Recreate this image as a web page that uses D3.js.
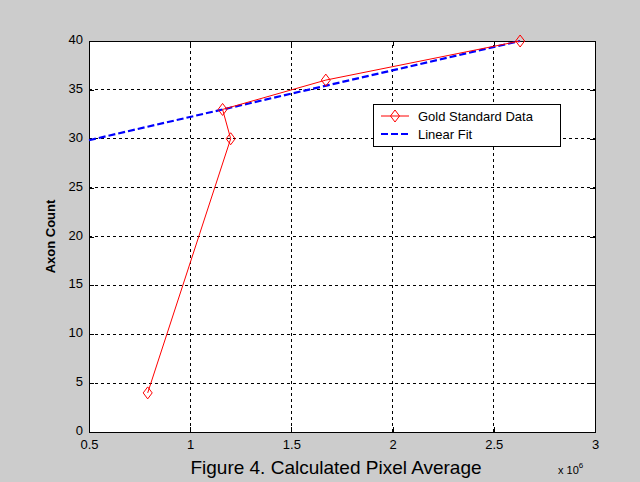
<!DOCTYPE html>
<html>
<head>
<meta charset="utf-8">
<script src="https://cdn.jsdelivr.net/npm/d3@7"></script>
<style>
  body { margin: 0; background: #cccccc; }
  svg { display: block; }
  text { font-family: Arial, "Liberation Sans", sans-serif; }
</style>
</head>
<body>
<script>
// data (x in units of 1e6)
const goldX = [0.79, 1.2, 1.16, 1.67, 2.63];
const goldY = [4, 30, 33, 36, 40];
const fitX = [0.5, 2.63];
const fitY = [29.85, 40];
const xTicks = [0.5, 1, 1.5, 2, 2.5, 3];
const yTicks = [0, 5, 10, 15, 20, 25, 30, 35, 40];
const seriesNames = ['Gold Standard Data', 'Linear Fit'];

const width = 640, height = 482;
const margin = { left: 89, right: 45, top: 41, bottom: 50 };

const svg = d3.select('body').append('svg')
    .attr('width', width)
    .attr('height', height);

svg.append('rect').attr('width', width).attr('height', height).attr('fill', '#cccccc');

const x = d3.scaleLinear().domain([0.5, 3]).range([margin.left, width - margin.right]);
const y = d3.scaleLinear().domain([0, 40]).range([height - margin.bottom, margin.top]);

// plot background
svg.append('rect')
    .attr('x', x(0.5)).attr('y', y(40))
    .attr('width', x(3) - x(0.5)).attr('height', y(0) - y(40))
    .attr('fill', 'white');

// grid
const grid = svg.append('g').attr('stroke', 'black').attr('stroke-width', 1)
    .attr('stroke-dasharray', '3,3').attr('shape-rendering', 'crispEdges');
xTicks.slice(1, -1).forEach(t => {
    grid.append('line').attr('x1', x(t)).attr('x2', x(t)).attr('y1', y(0)).attr('y2', y(40));
});
yTicks.slice(1, -1).forEach(t => {
    grid.append('line').attr('x1', x(0.5)).attr('x2', x(3)).attr('y1', y(t)).attr('y2', y(t));
});

// axes (ticks inside, like matlab)
const xAxis = svg.append('g').attr('transform', `translate(0,${y(0)})`)
    .call(d3.axisBottom(x).tickValues(xTicks).tickFormat(d3.format('')).tickSizeInner(-5).tickSizeOuter(0).tickPadding(8));
const xAxisTop = svg.append('g').attr('transform', `translate(0,${y(40)})`)
    .call(d3.axisTop(x).tickValues(xTicks).tickFormat('').tickSizeInner(-5).tickSizeOuter(0));
const yAxis = svg.append('g').attr('transform', `translate(${x(0.5)},0)`)
    .call(d3.axisLeft(y).tickValues(yTicks).tickSizeInner(-5).tickSizeOuter(0).tickPadding(6));
const yAxisRight = svg.append('g').attr('transform', `translate(${x(3)},0)`)
    .call(d3.axisRight(y).tickValues(yTicks).tickFormat('').tickSizeInner(-5).tickSizeOuter(0));

[xAxis, xAxisTop, yAxis, yAxisRight].forEach(a => {
    a.selectAll('path, line').attr('stroke', 'black').attr('shape-rendering', 'crispEdges');
    a.selectAll('text').attr('fill', 'black').style('font-size', '13px');
});
yAxis.selectAll('text').attr('dy', '0.2em');

// linear fit
const line = d3.line().x(d => x(d[0])).y(d => y(d[1]));
svg.append('path')
    .datum(fitX.map((v, i) => [v, fitY[i]]))
    .attr('d', line)
    .attr('fill', 'none')
    .attr('stroke', '#0000ff')
    .attr('stroke-width', 2.2)
    .attr('stroke-dasharray', '7,3');

// gold standard data
const gold = goldX.map((v, i) => [v, goldY[i]]);
svg.append('path')
    .datum(gold)
    .attr('d', line)
    .attr('fill', 'none')
    .attr('stroke', '#ff0000')
    .attr('stroke-width', 1);

function diamond(cx, cy) {
    return `M${cx},${cy - 6}L${cx + 4.5},${cy}L${cx},${cy + 6}L${cx - 4.5},${cy}Z`;
}
svg.append('g').selectAll('path')
    .data(gold)
    .enter().append('path')
    .attr('d', d => diamond(x(d[0]), y(d[1])))
    .attr('fill', 'none')
    .attr('stroke', '#ff0000')
    .attr('stroke-width', 1);

// legend
const lg = svg.append('g').attr('transform', 'translate(373,104)');
lg.append('rect').attr('width', 187).attr('height', 42)
    .attr('fill', 'white').attr('stroke', 'black').attr('shape-rendering', 'crispEdges');
lg.append('line').attr('x1', 8).attr('x2', 36).attr('y1', 12).attr('y2', 12)
    .attr('stroke', '#ff0000');
lg.append('path').attr('d', diamond(22, 12)).attr('fill', 'none').attr('stroke', '#ff0000');
lg.append('line').attr('x1', 8).attr('x2', 36).attr('y1', 30).attr('y2', 30)
    .attr('stroke', '#0000ff').attr('stroke-width', 2.2).attr('stroke-dasharray', '7,3');
seriesNames.forEach((n, i) => {
    lg.append('text').attr('x', 45).attr('y', 12 + i * 18).attr('dy', '0.35em')
        .style('font-size', '13px').text(n);
});

// labels
svg.append('text')
    .attr('transform', `translate(55,${(y(0) + y(40)) / 2}) rotate(-90)`)
    .attr('text-anchor', 'middle')
    .style('font-size', '13px').style('font-weight', 'bold')
    .text('Axon Count');

svg.append('text')
    .attr('x', 336).attr('y', 474)
    .attr('text-anchor', 'middle')
    .style('font-size', '19px')
    .text('Figure 4. Calculated Pixel Average');

const exp = svg.append('text').attr('x', 558).attr('y', 474).style('font-size', '11px');
exp.append('tspan').text('x 10');
exp.append('tspan').attr('dy', -6).style('font-size', '8px').text('6');
</script>
</body>
</html>
